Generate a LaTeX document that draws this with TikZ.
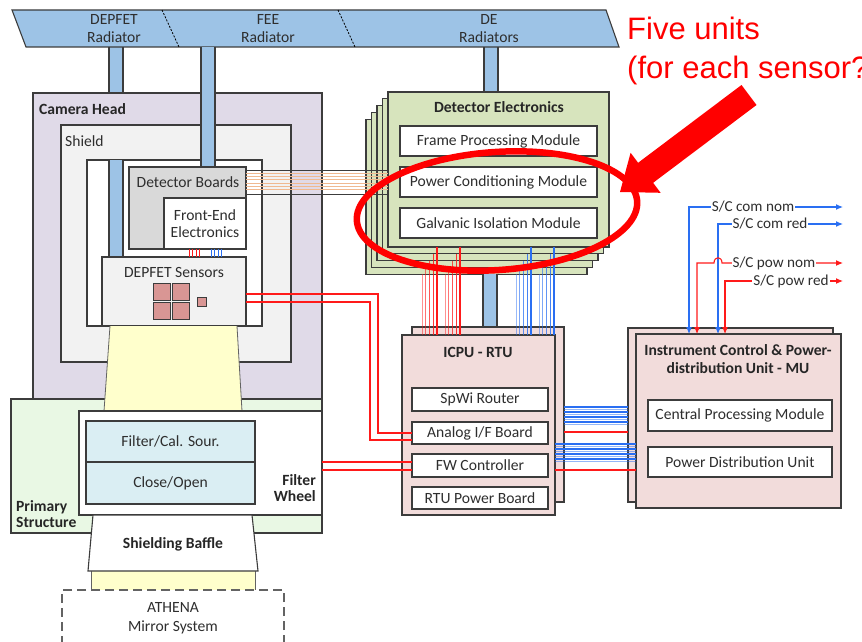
\documentclass[tikz,border=0pt]{standalone}
\usepackage{fontspec}
\setmainfont{Carlito}
\newfontfamily\calloutfont{Liberation Sans}
\usetikzlibrary{arrows.meta,shapes.geometric}

\definecolor{radblue}{HTML}{9DC3E6}
\definecolor{camhead}{HTML}{E0DAE8}
\definecolor{shieldgray}{HTML}{F2F2F2}
\definecolor{boardgray}{HTML}{D9D9D9}
\definecolor{degreen}{HTML}{D7E4BD}
\definecolor{unitpink}{HTML}{F2DCDB}
\definecolor{pixrose}{HTML}{D99694}
\definecolor{primgreen}{HTML}{E9F8E4}
\definecolor{filtblue}{HTML}{DAEEF3}
\definecolor{beam}{HTML}{FFFFCC}
\definecolor{harness}{HTML}{F0B990}
\definecolor{sigblue}{HTML}{2A6FF2}
\definecolor{sigred}{HTML}{FF1A1A}
\definecolor{edge}{HTML}{3C3C3C}
\definecolor{ink}{HTML}{2E2E2E}

\newcommand\lblfont{\fontsize{15.6}{17.5}\selectfont}
\newcommand\tagfont{\fontsize{15.2}{17}\selectfont}
% rectangle node from its top-left (x1,y1) to its bottom-right (x2,y2)
\newcommand\rectnode[7][]{\node[box,#1,minimum width={(#5)-(#3)},minimum height={(#6)-(#4)}] (#2) at (#3,#4) {#7};}
% heat pipe: blue bar with dark side walls
\newcommand\pipe[4]{\fill[radblue] (#1,#2) rectangle (#3,#4); \draw[pipewall] (#1,#2) -- (#1,#4) (#3,#2) -- (#3,#4);}

\begin{document}
\begin{tikzpicture}[x=1pt,y=-1pt,
  box/.style={draw=edge,line width=1.1pt,inner sep=0pt,outer sep=0pt,anchor=north west,font=\lblfont,text=ink,align=center},
  module/.style={fill=white},
  lbl/.style={font=\lblfont,text=ink,inner sep=0pt},
  ttl/.style={font=\lblfont\bfseries,text=black!85,inner sep=0pt},
  pipewall/.style={draw=edge,line width=1.1pt},
  divider/.style={draw=black,line width=0.8pt,dash pattern=on 2pt off 1.5pt},
  redwire/.style={draw=sigred,line width=1.1pt},
  bluewire/.style={draw=sigblue,line width=1.1pt},
  harnesswire/.style={draw=harness,line width=1pt},
  tip/.style={{Latex[length=7pt,width=6pt]}-{Latex[length=7pt,width=6pt]}},
  tag/.style={font=\tagfont,text=ink,fill=white,inner sep=1pt},
]
\path[use as bounding box] (0,0) rectangle (862,642);
\clip (0,0) rectangle (862,642);

% ---- heat pipes to the radiators (upper parts) ----
\pipe{109}{47}{123}{93}
\pipe{484}{47}{498}{92}

% ---- radiator plate ----
\draw[fill=radblue,draw=edge,line width=1.1pt] (12,10) -- (606,10) -- (619,47) -- (26,47) -- cycle;
\draw[divider] (162,10) -- (179,47);
\draw[divider] (338,10) -- (355,47);
\node[lbl] (radA1) at (114,19) {DEPFET};
\node[lbl] (radA2) at (114,37) {Radiator};
\node[lbl] (radB1) at (268,19) {FEE};
\node[lbl] (radB2) at (268,37) {Radiator};
\node[lbl] (radC1) at (489,19) {DE};
\node[lbl] (radC2) at (489,37) {Radiators};

% ---- camera head and primary structure ----
\rectnode[fill=camhead]{camera}{33}{93}{322}{399}{}
\rectnode[fill=primgreen]{primary}{11}{399}{322}{533}{}
\node[ttl,anchor=west] (cameraTitle) at (39,109) {Camera Head};
\rectnode[fill=shieldgray]{shield}{61}{125}{291}{362}{}
\node[lbl,anchor=west] (shieldTitle) at (65,141) {Shield};
\rectnode[fill=white]{cavity}{87}{160}{262}{326}{}
\pipe{109}{160}{123}{257}
\pipe{201}{47}{215}{167}

\rectnode[fill=boardgray]{boards}{129}{167}{246}{249}{}
\node[lbl] (boardsTitle) at (188,182) {Detector Boards};
\rectnode[module]{fee}{164}{198}{246}{249}{Front-End\\Electronics}
\rectnode[fill=shieldgray]{sensors}{102}{257}{246}{326}{}
\node[lbl] (sensorsTitle) at (174,272) {DEPFET Sensors};
\rectnode[fill=pixrose,line width=0.9pt]{pixA}{153}{283}{170}{300}{}
\rectnode[fill=pixrose,line width=0.9pt]{pixB}{172}{283}{189}{300}{}
\rectnode[fill=pixrose,line width=0.9pt]{pixC}{153}{302}{170}{319}{}
\rectnode[fill=pixrose,line width=0.9pt]{pixD}{172}{302}{189}{319}{}
\rectnode[fill=pixrose,line width=0.9pt]{pixE}{197}{297}{206}{306}{}

% FEE to sensor wiring
\foreach \x in {189,192.5,196,199.5} \draw[redwire,line width=0.8pt] (fee.south -| \x,0) -- (sensors.north -| \x,0);
\foreach \x in {211,214.5,218,221.5} \draw[bluewire,line width=0.8pt] (fee.south -| \x,0) -- (sensors.north -| \x,0);

% ---- X-ray beam ----
\fill[beam] (110,326) -- (237,326) -- (242,411) -- (104,411) -- cycle;
\draw[draw=edge!80,line width=0.8pt] (110,326) -- (104,411) (237,326) -- (242,411);

% ---- filter wheel ----
\rectnode[module]{wheel}{79}{411}{322}{515}{}
\rectnode[fill=filtblue]{filtcal}{86}{421}{255}{462}{Filter/Cal. Sour.}
\rectnode[fill=filtblue]{shutter}{86}{462}{255}{504}{Close/Open}
\node[ttl,align=right,anchor=east] (wheelTitle) at (316,488) {Filter\\[-1pt]Wheel};
\node[ttl,align=left,anchor=west] (primaryTitle) at (16,514) {Primary\\[-1pt]Structure};

% ---- baffle and mirror ----
\fill[beam] (91,571) rectangle (255,590);
\draw[draw=edge!80,line width=0.8pt] (91,571) -- (91,590) (255,571) -- (255,590);
\draw[fill=white,draw=edge,line width=1.1pt] (93,515) -- (252,515) -- (258,571) -- (88,571) -- cycle;
\node[ttl] (baffleTitle) at (173,544) {Shielding Baffle};
\node[box,draw=edge!80,dash pattern=on 9pt off 5pt,fill=white,minimum width=222,minimum height=70] (mirror) at (62,590) {};
\node[lbl] (mirrorA) at (173,607) {ATHENA};
\node[lbl] (mirrorB) at (173,627) {Mirror System};

% ---- detector electronics (five stacked units) ----
\foreach \k in {4,3,2,1} {
  \rectnode[fill=degreen]{de\k}{388-5.5*\k}{92+6.8*\k}{609-5.5*\k}{247+6.8*\k}{}
}
\rectnode[fill=degreen]{de0}{388}{92}{609}{247}{}
\node[ttl] (deTitle) at (499,107) {Detector Electronics};
\rectnode[module]{fpm}{400}{126}{597}{156}{Frame Processing Module}
\rectnode[module]{pcm}{400}{167}{597}{197}{Power Conditioning Module}
\rectnode[module]{gim}{400}{208}{597}{238}{Galvanic Isolation Module}

% harness from the detector boards
\foreach \y in {173.5,176.7,179.9,183.1,186.3,189.5}
  \draw[harnesswire] (boards.east |- 0,\y) -- (de0.west |- 0,\y);
\draw[draw=edge,line width=1pt] (boards.east |- 0,170) -- (de0.west |- 0,170);
\draw[draw=edge,line width=1pt] (boards.east |- 0,194) -- (de0.west |- 0,194);

% ---- DE pipe to ICPU ----
\pipe{483}{274}{497}{335}

% ---- ICPU - RTU ----
\rectnode[fill=unitpink]{icpu1}{412}{327}{564}{502}{}
\rectnode[fill=unitpink]{icpu0}{402}{335}{555}{515}{}
\node[ttl] (icpuTitle) at (478,352) {ICPU - RTU};
\rectnode[module]{spw}{412}{388}{548}{411}{SpWi Router}
\rectnode[module]{analog}{412}{422}{548}{444}{Analog I/F Board}
\rectnode[module]{fwc}{412}{454}{548}{477}{FW Controller}
\rectnode[module]{rtupb}{412}{487}{548}{509}{RTU Power Board}

% ---- MU ----
\rectnode[fill=unitpink]{mu1}{628}{328}{833}{502}{}
\rectnode[fill=unitpink]{mu0}{636}{334}{841}{508}{}
\node[ttl,align=center] (muTitle) at (738,359) {Instrument Control \& Power-\\[0pt]distribution Unit - MU};
\rectnode[module]{cpm}{648}{400}{832}{431}{Central Processing Module}
\rectnode[module]{pdu}{648}{447}{832}{477}{Power Distribution Unit}

% DE units to ICPU
\foreach \k in {0,...,4} {
  \pgfmathsetmacro\ra{437-3.7*\k}
  \pgfmathsetmacro\rb{460-3.7*\k}
  \pgfmathsetmacro\ba{531-3.7*\k}
  \pgfmathsetmacro\bb{554-3.7*\k}
  \pgfmathsetmacro\op{1-0.13*\k}
  \draw[redwire,draw opacity=\op] (de\k.south -| \ra,0) -- (icpu0.north -| \ra,0);
  \draw[redwire,draw opacity=\op] (de\k.south -| \rb,0) -- (icpu0.north -| \rb,0);
  \draw[bluewire,draw opacity=\op] (de\k.south -| \ba,0) -- (icpu0.north -| \ba,0);
  \draw[bluewire,draw opacity=\op] (de\k.south -| \bb,0) -- (icpu0.north -| \bb,0);
}

% ICPU to MU
\foreach \y [count=\i] in {407,409.5,412,414.5,417,419.5,422,424.5} {
  \pgfmathsetmacro\op{mod(\i,2)==0 ? 0.5 : 1}
  \draw[bluewire,draw opacity=\op] (icpu1.east |- 0,\y) -- (mu1.west |- 0,\y);
}
\draw[redwire] (icpu1.east |- 0,432) -- (mu1.west |- 0,432);
\foreach \y [count=\i] in {444,446.5,449,451.5,454,456.5,459,461.5} {
  \pgfmathsetmacro\op{mod(\i,2)==0 ? 0.5 : 1}
  \draw[bluewire,draw opacity=\op] (icpu0.east |- 0,\y) -- (mu0.west |- 0,\y);
}
\draw[redwire] (icpu0.east |- 0,470) -- (mu0.west |- 0,470);

% sensors to analog I/F board, filter wheel to FW controller
\draw[redwire] (sensors.east |- 0,294) -| (378,433) -- (analog.west |- 0,433);
\draw[redwire] (sensors.east |- 0,302) -| (370,440) -- (analog.west |- 0,440);
\draw[redwire] (wheel.east |- 0,462) -- (fwc.west |- 0,462);
\draw[redwire] (wheel.east |- 0,470) -- (fwc.west |- 0,470);

% ---- spacecraft interfaces ----
\coordinate (scA) at (843,207);
\coordinate (scB) at (843,224);
\coordinate (scC) at (843,263);
\coordinate (scD) at (843,281);
\draw[bluewire,tip] (mu0.north -| 689,0) |- (scA);
\draw[bluewire,tip] (mu0.north -| 718,0) |- (scB);
\draw[redwire,tip] (mu0.north -| 697,0) |- (714,263) .. controls (714,256) and (722,256) .. (722,263) -- (scC);
\draw[redwire,tip] (mu0.north -| 725,0) |- (scD);
\node[tag] (tagA) at (753,207) {S/C com nom};
\node[tag] (tagB) at (770,224) {S/C com red};
\node[tag] (tagC) at (774,263) {S/C pow nom};
\node[tag] (tagD) at (791,281) {S/C pow red};

% ---- highlight ----
\node[ellipse,draw=red,line width=6.5pt,minimum width=281,minimum height=118,inner sep=0pt,rotate=4] (ring) at (497,211) {};
\fill[red] (741.5,85) -- (756.5,105) -- (653.1,182.8) -- (660.6,192.8) -- (620,192) -- (630.6,152.8) -- (638.1,162.8) -- cycle;
\node[anchor=base west,inner sep=0pt,text=red,font=\calloutfont\fontsize{31}{36}\selectfont] (noteA) at (627,40) {Five units};
\node[anchor=base west,inner sep=0pt,text=red,font=\calloutfont\fontsize{31}{36}\selectfont] (noteB) at (627,78) {(for each sensor?)};
\end{tikzpicture}
\end{document}
